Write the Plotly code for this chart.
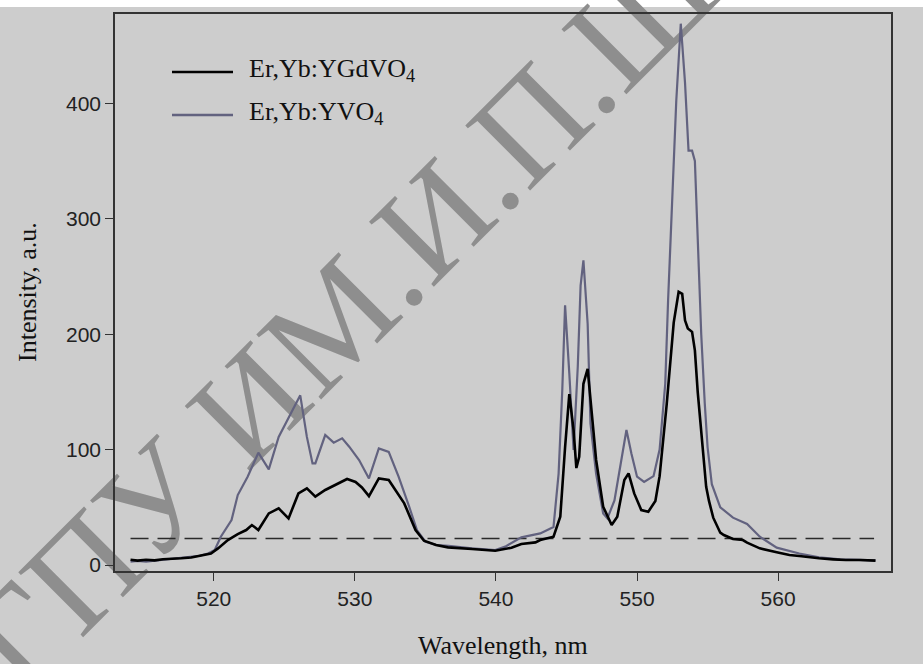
import plotly.graph_objects as go

# Up-conversion emission spectra (wavelength in nm, intensity in a.u.)
wl_ygdvo4 = [514.1, 514.6, 515.2, 515.8, 516.4, 517.0, 517.7, 518.4, 519.0, 519.8,
             520.3, 521.0, 521.7, 522.3, 522.7, 523.16, 523.9, 524.6, 525.3, 526.0,
             526.6, 527.2, 527.9, 528.6, 529.45, 530.05, 530.5, 531.0, 531.7, 532.4,
             533.5, 534.3, 534.9, 535.75, 536.6, 538.3, 539.95, 541.1, 541.8, 542.8,
             543.14, 544.08, 544.56, 544.9, 545.2, 545.5, 545.7, 545.9, 546.2, 546.5,
             546.7, 547.1, 547.6, 548.2, 548.6, 549.1, 549.4, 549.8, 550.3, 550.8,
             551.3, 551.6, 552.1, 552.6, 552.95, 553.2, 553.4, 553.6, 553.9, 554.1,
             554.3, 554.6, 554.9, 555.1, 555.4, 555.9, 556.15, 556.8, 557.5, 557.8,
             558.7, 559.9, 560.8, 561.5, 562.3, 562.9, 563.9, 564.8, 565.8, 566.9]
int_ygdvo4 = [4.5, 3.8, 4.6, 4.0, 5.0, 5.2, 5.8, 6.5, 7.8, 10.0,
              14.4, 21.6, 26.8, 30.3, 34.6, 30.3, 44.7, 49.0, 40.4, 62.0,
              66.4, 59.2, 65.0, 69.3, 74.5, 72.0, 67.2, 59.7, 75.0, 73.6,
              53.4, 30.3, 21.0, 17.3, 15.3, 13.9, 12.4, 15.0, 18.2, 19.6,
              21.6, 24.5, 41.8, 102.0, 148.0, 117.0, 84.0, 93.8, 157.0, 170.0,
              143.0, 91.0, 50.5, 34.6, 41.8, 73.6, 79.4, 62.0, 47.6, 46.2,
              55.5, 77.0, 139.0, 210.0, 236.7, 235.0, 212.0, 205.0, 202.0, 186.0,
              150.0, 105.0, 67.8, 55.5, 41.0, 28.0, 26.0, 22.5, 21.6, 19.3,
              14.4, 11.0, 8.7, 7.8, 6.6, 5.8, 4.9, 4.3, 4.3, 3.8]

wl_yvo4 = [514.1, 514.6, 515.2, 515.8, 516.4, 517.0, 517.7, 518.4, 519.0, 519.6,
           520.07, 520.5, 521.26, 521.7, 522.4, 523.16, 523.9, 524.6, 525.3, 526.13,
           526.6, 527.0, 527.2, 527.9, 528.5, 529.1, 529.6, 530.3, 531.0, 531.7,
           532.4, 533.1, 533.85, 534.4, 535.0, 535.8, 536.64, 538.3, 539.95, 540.66,
           541.8, 542.8, 543.14, 544.08, 544.44, 544.7, 544.9, 545.2, 545.5, 545.8,
           546.0, 546.2, 546.5, 546.7, 547.1, 547.6, 547.9, 548.4, 548.9, 549.25,
           549.6, 550.0, 550.5, 551.17, 551.6, 552.0, 552.2, 552.45, 552.78, 553.1,
           553.4, 553.65, 553.9, 554.1, 554.36, 554.55, 554.8, 555.0, 555.3, 555.9,
           556.8, 557.8, 558.7, 559.9, 561.5, 562.9, 564.4, 565.5, 566.9]
int_yvo4 = [2.9, 3.5, 3.0, 3.8, 4.2, 5.0, 5.8, 6.8, 8.0, 10.0,
            13.0, 24.5, 39.0, 60.6, 76.5, 97.3, 82.8, 111.0, 128.0, 147.0,
            111.0, 88.0, 88.0, 112.6, 106.0, 109.7, 102.5, 91.0, 75.0, 101.0,
            98.0, 76.5, 50.5, 30.3, 20.2, 17.3, 16.5, 14.4, 13.0, 15.9,
            24.0, 26.8, 27.4, 33.0, 79.0, 151.0, 225.0, 166.0, 99.6, 172.0,
            242.0, 264.0, 209.0, 122.6, 79.0, 44.7, 40.4, 56.0, 93.8, 117.0,
            96.7, 76.5, 72.0, 77.0, 100.0, 157.0, 229.0, 309.0, 402.0, 469.0,
            418.0, 359.0, 359.0, 350.0, 263.0, 200.0, 140.0, 102.0, 70.0, 50.0,
            41.0, 35.5, 24.5, 15.0, 10.0, 6.6, 4.9, 4.5, 4.0]

threshold_level = 23
threshold_span = [514.1, 566.8]

x_ticks = [520, 530, 540, 550, 560]
y_ticks = [0, 100, 200, 300, 400]
series_names = ["Er,Yb:YGdVO<sub>4</sub>", "Er,Yb:YVO<sub>4</sub>"]
series_colors = ["#000000", "#62627f"]
watermark_text = "МГПУ ИМ.И.П.ШАМЯКИНА"

BG = "#cdcdcd"
W, H = 923, 664
L, R, T, B = 115, 32, 14, 93
PW, PH = W - L - R, H - T - B


def px(x):
    return (x - L) / PW


def py(y):
    return (H - B - y) / PH


fig = go.Figure()

fig.add_trace(go.Scatter(
    x=threshold_span, y=[threshold_level, threshold_level], mode="lines",
    line=dict(color="#2a2a2a", width=1.6, dash="18px,9px"),
    showlegend=False, hoverinfo="skip"))

fig.add_trace(go.Scatter(
    x=wl_yvo4, y=int_yvo4, mode="lines", name=series_names[1],
    line=dict(color=series_colors[1], width=2.2), showlegend=False))

fig.add_trace(go.Scatter(
    x=wl_ygdvo4, y=int_ygdvo4, mode="lines", name=series_names[0],
    line=dict(color=series_colors[0], width=2.6), showlegend=False))

# watermark centre (pixels) along a 45-degree baseline
WM_X, WM_Y = 538, 94

shapes = [
    # white strip along the top edge of the page
    dict(type="rect", xref="paper", yref="paper", layer="below",
         x0=px(-5), x1=px(W + 5), y0=py(7), y1=py(-5),
         fillcolor="white", line=dict(width=0)),
    # diagonal watermark, drawn beneath the curves
    dict(type="line", xref="paper", yref="paper", layer="below",
         x0=px(WM_X - 300), y0=py(WM_Y + 300), x1=px(WM_X + 300), y1=py(WM_Y - 300),
         line=dict(color="rgba(0,0,0,0)", width=0),
         label=dict(text=watermark_text, textangle=-45, textposition="middle",
                    xanchor="center", yanchor="middle", padding=0,
                    font=dict(family="Liberation Serif", size=140, color="#8e8e8e"))),
]

# legend samples
legend_rows = [72, 115]
annotations = []
for name, color, yrow, w in zip(series_names, series_colors, legend_rows, [2.6, 2.4]):
    shapes.append(dict(type="line", xref="paper", yref="paper",
                       x0=px(172), x1=px(233), y0=py(yrow), y1=py(yrow),
                       line=dict(color=color, width=w)))
    annotations.append(dict(xref="paper", yref="paper", x=px(247), y=py(yrow - 2),
                            xanchor="left", yanchor="middle", showarrow=False,
                            text=name,
                            font=dict(family="Liberation Serif", size=26, color="#111")))

annotations.append(dict(xref="paper", yref="paper", x=px(503), y=py(645),
                        xanchor="center", yanchor="middle", showarrow=False,
                        text="Wavelength, nm",
                        font=dict(family="Liberation Serif", size=26, color="#111")))
annotations.append(dict(xref="paper", yref="paper", x=px(27), y=py(292),
                        xanchor="center", yanchor="middle", showarrow=False,
                        textangle=-90, text="Intensity, a.u.",
                        font=dict(family="Liberation Serif", size=26, color="#111")))

axis_common = dict(showline=True, linecolor="#333", linewidth=1.6, mirror=True,
                   ticks="outside", ticklen=8, tickwidth=1.4, tickcolor="#333",
                   showgrid=False, zeroline=False,
                   tickfont=dict(family="Liberation Sans", size=21, color="#222"))

fig.update_layout(
    width=W, height=H,
    margin=dict(l=L, r=R, t=T, b=B),
    paper_bgcolor=BG, plot_bgcolor="rgba(0,0,0,0)",
    xaxis=dict(range=[513.0, 568.0], tickvals=x_ticks, **axis_common),
    yaxis=dict(range=[-5.2, 477.4], tickvals=y_ticks, **axis_common),
    shapes=shapes, annotations=annotations,
)

fig.write_html("out.html")
